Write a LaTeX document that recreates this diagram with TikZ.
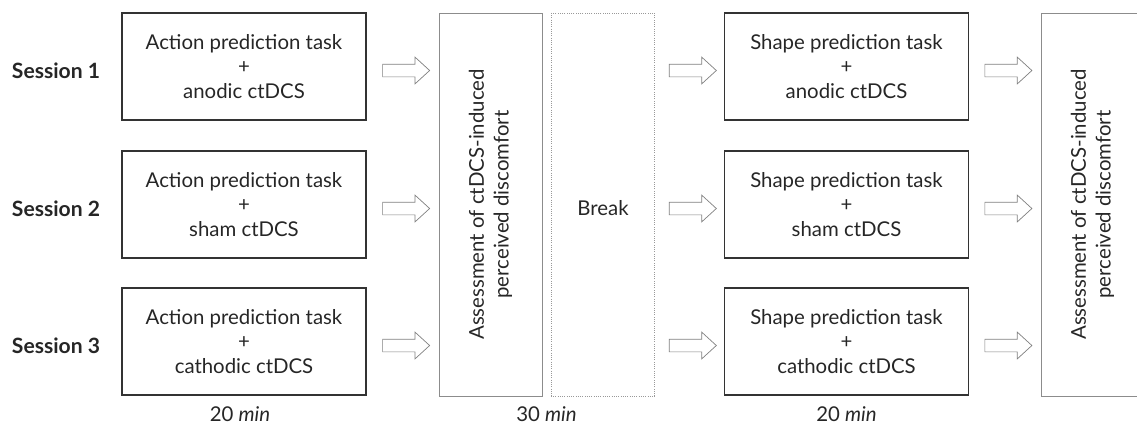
\documentclass[tikz,border=0pt]{standalone}
\usepackage{fontspec}
\setmainfont{Lato}
\usetikzlibrary{shapes.arrows,calc}

\tikzset{
  taskbox/.style={draw=black!80, line width=1pt, minimum width=6.1cm, minimum height=2.675cm,
    align=center, text=black!85, font=\fontsize{14.5}{17.5}\selectfont},
  tallbox/.style={draw=black!45, line width=0.6pt, rotate=90, minimum width=9.575cm, minimum height=2.575cm,
    align=center, text=black!85, font=\fontsize{14.5}{17.5}\selectfont},
  breakbox/.style={tallbox, draw=black!40, densely dotted},
  blockarrow/.style={shape=single arrow, draw=black!50, line width=0.5pt, fill=white,
    minimum height=1.175cm, inner xsep=0pt, inner ysep=0.15cm, single arrow head extend=0.175cm,
    single arrow tip angle=85, yshift=-0.1cm},
  sessionlabel/.style={font=\fontsize{15}{18}\selectfont\bfseries, text=black!85},
  timelabel/.style={font=\fontsize{14.5}{17.5}\selectfont, text=black!85}
}

\begin{document}
\begin{tikzpicture}[x=0.025cm, y=-0.025cm]
  \clip (0,0) rectangle (1137,436);

  % first block
  \node[taskbox] (act1) at (244,66.5) {Action prediction task\\+\\anodic ctDCS};
  \node[taskbox] (act2) at (244,204.5) {Action prediction task\\+\\sham ctDCS};
  \node[taskbox] (act3) at (244,341.5) {Action prediction task\\+\\cathodic ctDCS};

  \node[sessionlabel] (ses1) at (56,71) {Session 1};
  \node[sessionlabel] (ses2) at (56,209) {Session 2};
  \node[sessionlabel] (ses3) at (56,346) {Session 3};

  % assessment and break
  \node[tallbox] (assessA) at (490.5,204.5) {Assessment of ctDCS-induced\\perceived discomfort};
  \node[breakbox] (pause) at (603,204.5) {};
  \node[text=black!85, font=\fontsize{14.5}{17.5}\selectfont] (pausetxt) at (603,208) {Break};

  % second block
  \node[taskbox] (shp1) at (846.5,66.5) {Shape prediction task\\+\\anodic ctDCS};
  \node[taskbox] (shp2) at (846.5,204.5) {Shape prediction task\\+\\sham ctDCS};
  \node[taskbox] (shp3) at (846.5,341.5) {Shape prediction task\\+\\cathodic ctDCS};

  \node[tallbox] (assessB) at (1092.5,204.5) {Assessment of ctDCS-induced\\perceived discomfort};

  % arrows
  \foreach \i in {1,2,3} {
    \node[blockarrow] (ar1\i) at ($(act\i.east)!0.5!(assessA.north |- act\i.east)$) {};
    \node[blockarrow] (ar2\i) at ($(pause.south |- shp\i.west)!0.5!(shp\i.west)$) {};
    \node[blockarrow] (ar3\i) at ($(shp\i.east)!0.5!(assessB.north |- shp\i.east)$) {};
  }

  % durations
  \node[timelabel] (t1) at (240,414) {20 \textit{min}};
  \node[timelabel] (t2) at (546.5,414) {30 \textit{min}};
  \node[timelabel] (t3) at (846.5,414) {20 \textit{min}};
\end{tikzpicture}
\end{document}
